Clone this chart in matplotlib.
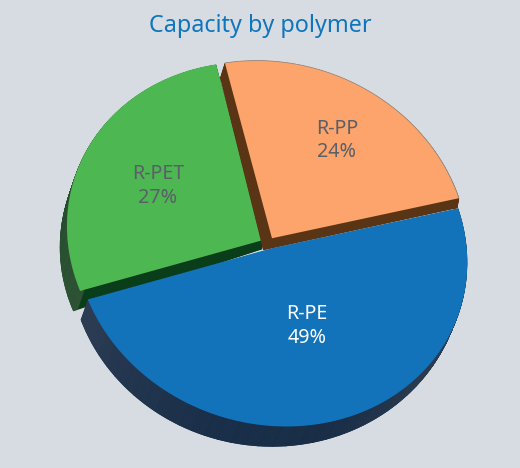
import numpy as np
import matplotlib
matplotlib.use("Agg")
import matplotlib.pyplot as plt
from matplotlib.patches import Wedge
from matplotlib.transforms import Affine2D
from matplotlib.colors import to_rgb

# data
title = "Capacity by polymer"
categories = ["R-PP", "R-PET", "R-PE"]
shares = [24, 27, 49]

# style
BG = "#d7dce3"
top_colors = ["#fca46b", "#4db751", "#1273bb"]
cut_colors = ["#5a3515", "#0a3d1a", "#2a3b52"]
label_colors = ["#5a5f68", "#5a5f68", "#ffffff"]
label_pos = [(337, 140.5), (158, 186), (307, 326)]
slice_z = [20, 10, 30]
START = 14
EXPLODE = 0.032

# top plane and per-slice extrusion (disc coordinates -> pixels)
A = np.array([[196.0, -12.0], [3.0, -178.0]])
C = np.array([268.9, 243.0])
Ls = [np.array([[5.9, 5.2], [-2.7, 2.56]]),
      np.array([[6.0, 0.0], [-11.5, 0.0]]),
      np.array([[1.0, 5.67], [-3.7, -5.2]])]
Os = [np.array([-9.0, 12.0]), np.array([-1.0, 9.0]), np.array([-4.33, 14.85])]

rim_angles = [100, 197, 200, 250, 285, 320, 374]
blue_rim = ["#2c3c54", "#2c3c54", "#2c3c54", "#172d48", "#162b45", "#2b3d50", "#33475a"]
green_rim = ["#3a5b3e"] * 7
orange_rim = ["#5a3515"] * 7
rims = [orange_rim, green_rim, blue_rim]


def plane(t, k):
    m = A + t * Ls[k]
    c = C + t * Os[k]
    return Affine2D(np.array([[m[0, 0], m[0, 1], c[0]],
                              [m[1, 0], m[1, 1], c[1]],
                              [0, 0, 1]]))


def rim_color(stops, angle):
    rgb = np.array([to_rgb(s) for s in stops])
    a = angle if angle >= rim_angles[0] else angle + 360
    return tuple(np.interp(a, rim_angles, rgb[:, k]) for k in range(3))


fig = plt.figure(figsize=(5.2, 4.68), dpi=100, facecolor=BG)
ax = fig.add_axes([0, 0, 1, 1])
ax.set_facecolor(BG)
explode = [EXPLODE] * len(shares)

N = 30
for i, t in enumerate(np.linspace(1, 0, N + 1)):
    is_top = i == N
    wedges, _ = ax.pie(shares, explode=explode, startangle=START,
                       colors=top_colors if is_top else cut_colors,
                       wedgeprops=dict(linewidth=0))
    for k, w in enumerate(wedges):
        tr = plane(t, k) + ax.transData
        w.set_transform(tr)
        w.set_zorder(slice_z[k] + i / (N + 2))
        w.set_clip_on(False)
        if not is_top:
            step = 4
            for a0 in np.arange(w.theta1, w.theta2, step):
                a1 = min(a0 + step + 0.4, w.theta2)
                seg = Wedge(w.center, 1.0, a0, a1, width=0.025,
                            facecolor=rim_color(rims[k], a0 + step / 2),
                            linewidth=0, transform=tr,
                            zorder=slice_z[k] + (i + 0.5) / (N + 2), clip_on=False)
                ax.add_patch(seg)
        elif k == 0:
            ax.add_patch(Wedge(w.center, 1.0, w.theta1, w.theta2, width=0.004,
                               facecolor="#8a8a8a", linewidth=0, transform=tr,
                               zorder=slice_z[k] + 1, clip_on=False))

ax.set_aspect("auto")
ax.set_xlim(0, 520)
ax.set_ylim(468, 0)
ax.axis("off")

font = "Noto Sans"
ax.text(260, 26.5, title, ha="center", va="center", color="#0f75bc",
        fontsize=16.8, family=font, zorder=50)
for name, share, pos, col in zip(categories, shares, label_pos, label_colors):
    ax.text(pos[0], pos[1], f"{name}\n{share}%", ha="center", va="center",
            color=col, fontsize=14.2, family=font, linespacing=1.26, zorder=50)

fig.savefig("out.png", dpi=100, facecolor=BG)
